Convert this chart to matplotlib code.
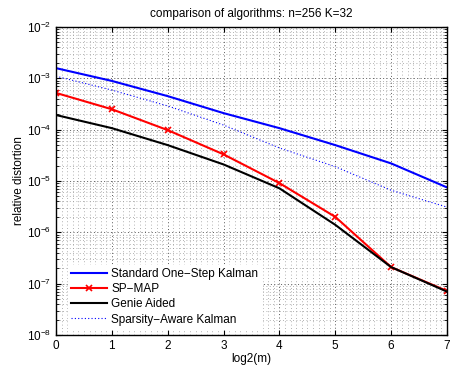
import matplotlib
matplotlib.use("Agg")
import matplotlib.pyplot as plt
import numpy as np
from matplotlib.ticker import MultipleLocator, LogLocator, NullFormatter

plt.rcParams['font.family'] = ['Liberation Sans', 'DejaVu Sans']

# log2(m) values
m_log2 = [0, 1, 2, 3, 4, 5, 6, 7]

# relative distortion for each algorithm
standard_kalman = [1.58e-3, 8.9e-4, 4.5e-4, 2.1e-4, 1.07e-4, 5.0e-5, 2.2e-5, 7.5e-6]
sp_map = [5.2e-4, 2.5e-4, 9.8e-5, 3.3e-5, 9.1e-6, 2.0e-6, 2.1e-7, 7.2e-8]
genie_aided = [1.93e-4, 1.07e-4, 5.0e-5, 2.1e-5, 7.2e-6, 1.4e-6, 2.1e-7, 7.0e-8]
sparsity_kalman = [1.1e-3, 5.9e-4, 2.9e-4, 1.23e-4, 4.4e-5, 1.9e-5, 6.6e-6, 3.1e-6]

fig = plt.figure(figsize=(4.5, 3.66), dpi=100)
ax = fig.add_axes([56 / 450, 1 - 335 / 366, 391 / 450, 308 / 366])

ax.semilogy(m_log2, standard_kalman, color='b', lw=1.5, label='Standard One\u2212Step Kalman')
ax.semilogy(m_log2, sp_map, color='r', lw=1.5, marker='x', ms=5, mew=1.2, label='SP\u2212MAP')
ax.semilogy(m_log2, genie_aided, color='k', lw=1.5, label='Genie Aided')
ax.semilogy(m_log2, sparsity_kalman, color='b', lw=0.8, ls=(0, (1, 2)), label='Sparsity\u2212Aware Kalman')

ax.set_xlim(0, 7)
ax.set_ylim(1e-8, 1e-2)
ax.xaxis.set_major_locator(MultipleLocator(1))
ax.xaxis.set_minor_locator(MultipleLocator(0.1))
ax.yaxis.set_major_locator(LogLocator(base=10, numticks=10))
ax.yaxis.set_minor_locator(LogLocator(base=10, subs=np.arange(2, 10), numticks=10))
ax.yaxis.set_minor_formatter(NullFormatter())

ax.grid(which='major', ls=(0, (1, 2.5)), color='0.35', lw=0.7)
ax.grid(which='minor', ls=(0, (1, 3)), color='0.6', lw=0.6)
ax.set_axisbelow(True)
ax.tick_params(which='both', direction='in', top=True, right=True, labelsize=8.5)
ax.tick_params(which='minor', length=0, top=False, bottom=False)
ax.tick_params(which='minor', axis='y', length=2, left=True, right=True)
for s in ax.spines.values():
    s.set_linewidth(1.0)

ax.set_title('comparison of algorithms: n=256 K=32', fontsize=8.5, pad=7)
ax.set_xlabel('log2(m)', fontsize=8.5, labelpad=1)
ax.set_ylabel('relative distortion', fontsize=8.5, labelpad=1)

leg = ax.legend(loc='lower left', fontsize=8.5, frameon=True, fancybox=False,
                edgecolor='white', framealpha=1, borderpad=0.3, labelspacing=0.26,
                handlelength=3.0, handletextpad=0.4, bbox_to_anchor=(0.015, 0.0))

fig.savefig('out.png', dpi=100)
